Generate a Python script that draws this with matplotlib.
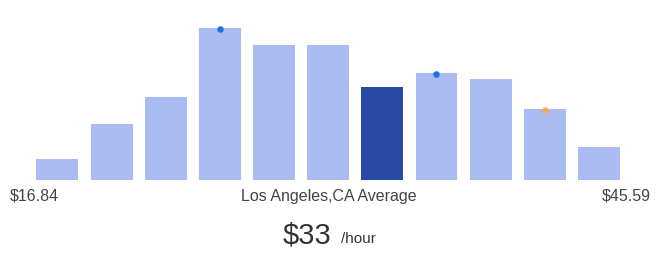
import numpy as np
import matplotlib.pyplot as plt

plt.rcParams['font.family'] = ['Liberation Sans', 'DejaVu Sans']

# bar heights (relative)
heights = [21, 56, 83, 152, 135, 135, 93, 107, 101, 71, 33]
highlight = 6  # the average bin
dots_blue = [3, 7]
dots_orange = [9]
low_label = "$16.84"
high_label = "$45.59"
mid_label = "Los Angeles,CA Average"
avg_label = "$33"
unit_label = "/hour"

W, H = 660, 277
fig = plt.figure(figsize=(W / 100, H / 100), dpi=100)
ax = fig.add_axes([30.4 / W, (H - 180) / H, 595.6 / W, 180 / H])

x = np.arange(len(heights))
colors = ['#aabbf2'] * len(heights)
colors[highlight] = '#274ba5'
ax.bar(x, heights, width=0.775, color=colors, zorder=2)

ax.scatter(x[dots_blue], np.array(heights)[dots_blue] - 1, s=22, color='#1a73e8', zorder=3, linewidths=0)
ax.scatter(x[dots_orange], np.array(heights)[dots_orange] - 1, s=22, color='#f9a85b', zorder=3, linewidths=0)

ax.set_xlim(-0.5, len(heights) - 0.5)
ax.set_ylim(0, 180)
ax.axis('off')

txt = '#444444'
fig.text(10 / W, 1 - 196 / H, low_label, ha='left', va='center', fontsize=11.5, color=txt)
fig.text(329 / W, 1 - 196 / H, mid_label, ha='center', va='center', fontsize=11.5, color=txt)
fig.text(651 / W, 1 - 196 / H, high_label, ha='right', va='center', fontsize=11.5, color=txt)
fig.text(331 / W, 1 - 243 / H, avg_label, ha='right', va='baseline', fontsize=21, color='#333333')
fig.text(341 / W, 1 - 243 / H, unit_label, ha='left', va='baseline', fontsize=11, color='#333333')

fig.savefig('out.png', dpi=100)
